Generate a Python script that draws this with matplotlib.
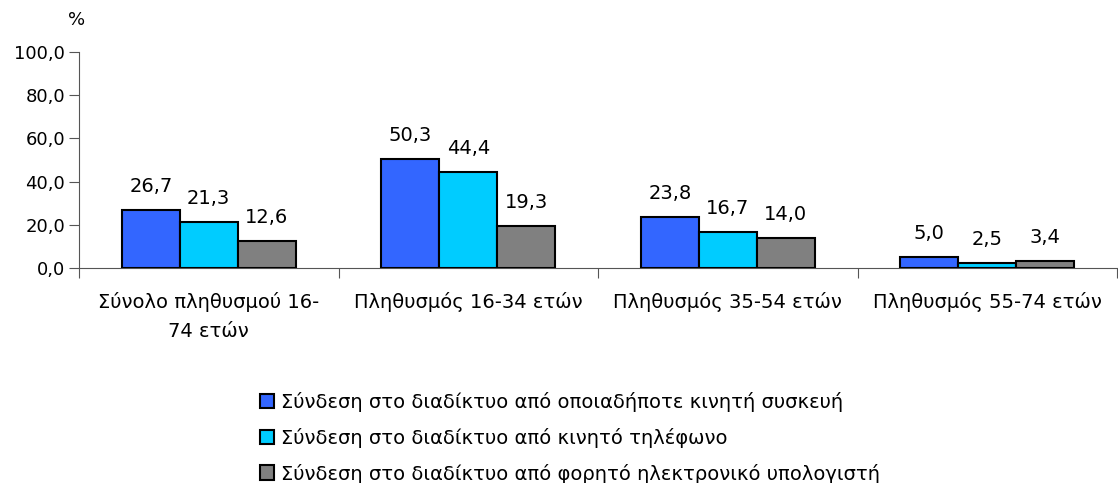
import numpy as np
import matplotlib
matplotlib.use("Agg")
import matplotlib.pyplot as plt
from matplotlib.patches import Patch

plt.rcParams['font.family'] = ['DejaVu Sans']

categories = ["Σύνολο πληθυσμού 16-\n74 ετών", "Πληθυσμός 16-34 ετών",
              "Πληθυσμός 35-54 ετών", "Πληθυσμός 55-74 ετών"]
series_names = ["Σύνδεση στο διαδίκτυο από οποιαδήποτε κινητή συσκευή",
                "Σύνδεση στο διαδίκτυο από κινητό τηλέφωνο",
                "Σύνδεση στο διαδίκτυο από φορητό ηλεκτρονικό υπολογιστή"]
any_device = [26.7, 50.3, 23.8, 5.0]
mobile_phone = [21.3, 44.4, 16.7, 2.5]
laptop = [12.6, 19.3, 14.0, 3.4]
colors = ['#3366FF', '#00CCFF', '#808080']

fig = plt.figure(figsize=(11.18, 4.83), dpi=100)
ax = fig.add_axes([79 / 1118, 215 / 483, (1117 - 79) / 1118, 216 / 483])

x = np.arange(len(categories))
w = 0.223
for i, (vals, col) in enumerate(zip([any_device, mobile_phone, laptop], colors)):
    bars = ax.bar(x + (i - 1) * w, vals, w, color=col, edgecolor='black',
                  linewidth=1.5, zorder=3)
    for b, v in zip(bars, vals):
        ax.annotate(f"{v:.1f}".replace('.', ','),
                    (b.get_x() + b.get_width() / 2, b.get_height()),
                    xytext=(0, 10), textcoords='offset points',
                    ha='center', va='bottom', fontsize=14)

ax.set_xlim(-0.5, len(categories) - 0.5)
ax.set_ylim(0, 100)
ax.set_yticks(np.arange(0, 101, 20))
ax.set_yticklabels([f"{t:.1f}".replace('.', ',') for t in np.arange(0, 101, 20)],
                   fontsize=13)

# category boundary ticks on x axis, labels in between
ax.set_xticks(np.arange(-0.5, len(categories), 1))
ax.set_xticklabels([])
ax.set_xticks(x, minor=True)
ax.set_xticklabels(categories, minor=True, fontsize=14, linespacing=1.7)
ax.tick_params(axis='x', which='minor', length=0, pad=17)
ax.tick_params(axis='x', which='major', length=7, color='#555555')
ax.tick_params(axis='y', length=7, color='#555555', pad=3)

for s in ['top', 'right']:
    ax.spines[s].set_visible(False)
ax.spines['left'].set_color('#555555')
ax.spines['bottom'].set_color('#555555')

fig.text(68 / 1118, 1 - 20 / 483, "%", fontsize=13, ha='left', va='center')

handles = [Patch(facecolor=c, edgecolor='black', linewidth=1.5) for c in colors]
fig.legend(handles, series_names, loc='upper left',
           bbox_to_anchor=(252 / 1118, 1 - 384 / 483), frameon=False,
           fontsize=14, handlelength=0.75, handleheight=0.8,
           handletextpad=0.35, labelspacing=0.82, borderaxespad=0)

fig.savefig("out.png", dpi=100)
